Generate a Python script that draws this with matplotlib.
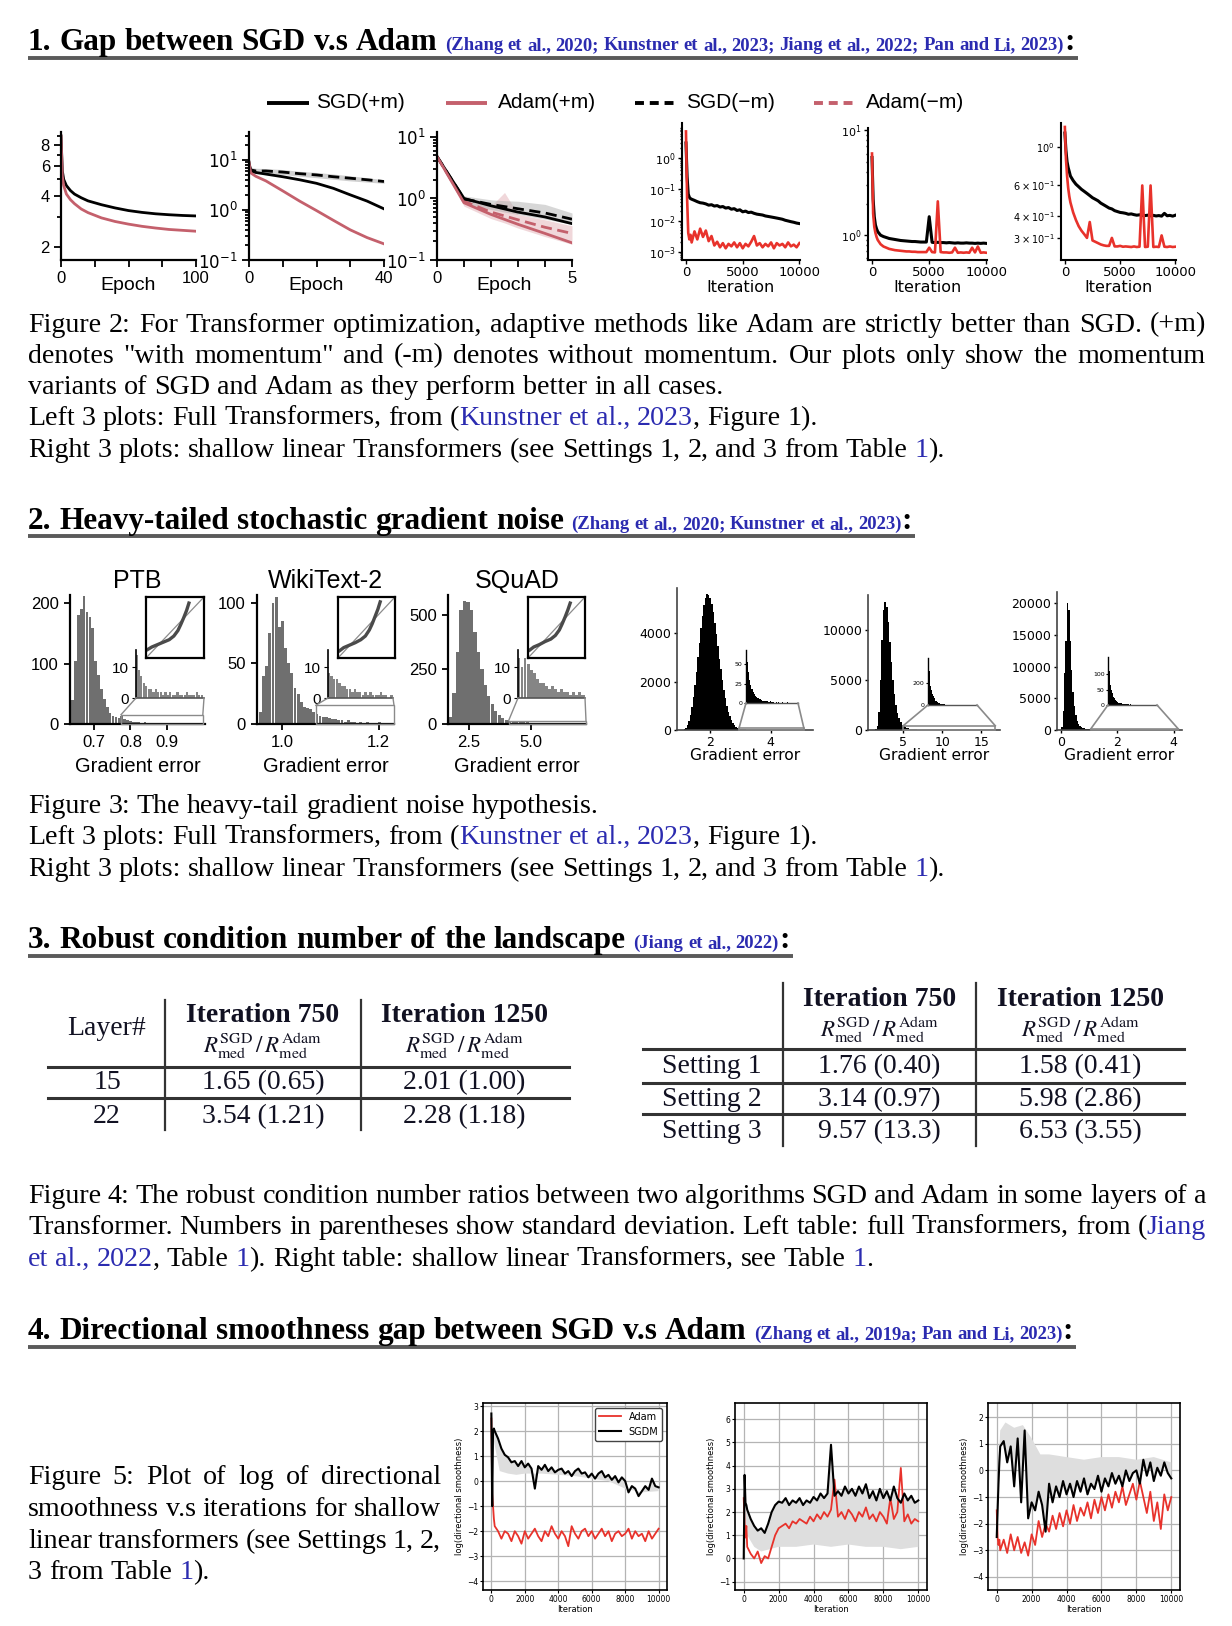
import numpy as np
import matplotlib
matplotlib.use("Agg")
import matplotlib.pyplot as plt
from matplotlib.lines import Line2D
from matplotlib.patches import Rectangle
from matplotlib.ticker import NullFormatter, NullLocator, FixedLocator

plt.rcParams['font.family'] = ['DejaVu Sans']

# ======================= DATA =======================
# --- Section 1, left: full Transformers (loss vs epoch)
ep_a = [0, 1, 2, 4, 7, 10, 15, 20, 30, 40, 50, 60, 70, 80, 90, 100]
sgdm_a = [9.0, 5.6, 5.0, 4.6, 4.3, 4.1, 3.9, 3.74, 3.55, 3.4, 3.28, 3.2, 3.14, 3.1, 3.07, 3.05]
adamm_a = [9.0, 5.2, 4.6, 4.1, 3.8, 3.6, 3.35, 3.19, 2.97, 2.83, 2.73, 2.65, 2.59, 2.54, 2.51, 2.48]

ep_b = [0, 0.5, 2, 5, 10, 15, 20, 25, 30, 35, 40]
sgdm_b = [9.0, 6.0, 5.6, 5.2, 4.6, 4.0, 3.4, 2.7, 2.0, 1.5, 1.05]
adamm_b = [9.0, 5.5, 4.7, 3.8, 2.4, 1.5, 0.97, 0.62, 0.4, 0.28, 0.21]
sgdnm_b = [8.0, 6.3, 6.0, 6.0, 5.7, 5.3, 5.0, 4.6, 4.3, 4.0, 3.7]
sgdnm_b_lo = [7.0, 5.6, 5.3, 5.3, 5.1, 4.7, 4.4, 4.1, 3.8, 3.6, 3.4]
sgdnm_b_hi = [9.0, 7.0, 6.8, 6.7, 6.4, 5.9, 5.6, 5.2, 4.8, 4.4, 4.0]

ep_c = [0, 1, 2, 3, 4, 5]
sgdm_c = [4.8, 1.0, 0.76, 0.6, 0.5, 0.39]
adamm_c = [4.8, 0.85, 0.55, 0.38, 0.27, 0.19]
sgdnm_c = [4.8, 0.98, 0.8, 0.68, 0.58, 0.46]
adamnm_c = [4.8, 0.9, 0.6, 0.45, 0.34, 0.27]
band_c_x = [0, 1, 2, 2.5, 3, 4, 5]
sgdnm_c_lo = [4.6, 0.85, 0.66, 0.6, 0.55, 0.46, 0.38]
sgdnm_c_hi = [5.0, 1.1, 0.95, 0.92, 0.9, 0.8, 0.58]
adamnm_c_lo = [4.6, 0.75, 0.47, 0.4, 0.33, 0.24, 0.18]
adamnm_c_hi = [5.0, 1.0, 0.75, 1.25, 0.55, 0.45, 0.36]

# --- Section 1, right: shallow linear Transformers (loss vs iteration)
iters = [0, 100, 200, 300, 400, 500,
         750, 1000, 1250, 1500, 1750, 2000, 2250, 2500, 2750, 3000,
         3250, 3500, 3750, 4000, 4250, 4500, 4750, 5000, 5250, 5500,
         5750, 6000, 6250, 6500, 6750, 7000, 7250, 7500, 7750, 8000,
         8250, 8500, 8750, 9000, 9250, 9500, 9750, 10000]
s1_sgd = [3.0, 0.25, 0.07, 0.055, 0.05, 0.048,
          0.044, 0.040, 0.037, 0.036, 0.034, 0.031, 0.032, 0.029, 0.030, 0.027,
          0.028, 0.025, 0.026, 0.023, 0.024, 0.021, 0.022, 0.019, 0.020, 0.018,
          0.0185, 0.017, 0.016, 0.0155, 0.015, 0.014, 0.0135, 0.013, 0.0125, 0.012,
          0.0115, 0.011, 0.0102, 0.0097, 0.0092, 0.0088, 0.0083, 0.008]
s1_adam = [7.0, 0.05, 0.004, 0.0025, 0.0035, 0.002,
           0.0045, 0.0025, 0.0055, 0.003, 0.0048, 0.0022, 0.0032, 0.0016, 0.0021, 0.0014,
           0.0019, 0.0013, 0.0018, 0.0015, 0.0020, 0.0014, 0.0019, 0.0013, 0.0018, 0.0015,
           0.0021, 0.0032, 0.0016, 0.0019, 0.0014, 0.0018, 0.0015, 0.0020, 0.0013, 0.0019,
           0.0016, 0.0018, 0.0014, 0.0020, 0.0015, 0.0017, 0.0014, 0.0019]
s2_sgd = [5.5, 2.2, 1.5, 1.25, 1.15, 1.08,
          1.0, 0.97, 0.95, 0.93, 0.92, 0.91, 0.9, 0.89, 0.885, 0.88,
          0.875, 0.87, 0.87, 0.865, 0.86, 0.86, 0.86, 1.5, 0.855, 0.85,
          0.855, 0.85, 0.85, 0.845, 0.85, 0.845, 0.84, 0.845, 0.84, 0.84,
          0.845, 0.84, 0.84, 0.835, 0.84, 0.835, 0.84, 0.835]
s2_adam = [6.0, 1.6, 1.2, 1.05, 0.96, 0.9,
           0.82, 0.78, 0.76, 0.74, 0.73, 0.72, 0.715, 0.71, 0.705, 0.7,
           0.7, 0.695, 0.695, 0.69, 0.69, 0.69, 0.69, 0.76, 0.69, 0.685,
           2.1, 0.69, 0.685, 0.685, 0.68, 0.685, 0.76, 0.68, 0.685, 0.68,
           0.685, 0.68, 0.76, 0.685, 0.78, 0.68, 0.685, 0.68]
s3_sgd = [1.2, 0.95, 0.82, 0.76, 0.72, 0.68,
          0.64, 0.61, 0.59, 0.57, 0.555, 0.54, 0.525, 0.51, 0.5, 0.49,
          0.475, 0.465, 0.455, 0.445, 0.44, 0.43, 0.425, 0.42, 0.418, 0.415,
          0.41, 0.412, 0.408, 0.405, 0.407, 0.404, 0.403, 0.405, 0.402, 0.404,
          0.401, 0.403, 0.40, 0.415, 0.402, 0.404, 0.40, 0.405]
s3_adam = [1.3, 0.85, 0.68, 0.58, 0.52, 0.48,
           0.42, 0.38, 0.35, 0.33, 0.315, 0.30, 0.37, 0.29, 0.285, 0.28,
           0.275, 0.272, 0.27, 0.27, 0.30, 0.268, 0.268, 0.27, 0.267, 0.268,
           0.267, 0.266, 0.268, 0.266, 0.267, 0.60, 0.266, 0.267, 0.60, 0.266,
           0.267, 0.266, 0.31, 0.267, 0.266, 0.268, 0.266, 0.267]

# --- Section 2, left: gradient-error histograms of full Transformers
ptb_start, ptb_bw = 0.636, 0.008
ptb_counts = [40, 105, 180, 190, 212, 185, 178, 160, 105, 82,
              58, 42, 28, 18, 13, 11, 10, 14, 9, 7,
              5, 4, 3, 3, 2, 3, 2, 2, 1, 2,
              1, 2, 1, 1, 2, 1, 1, 1, 2, 1,
              1, 1, 2, 1, 1]
wiki_start, wiki_bw = 0.952, 0.0065
wiki_counts = [10, 40, 48, 75, 100, 105, 80, 85, 63, 50,
               42, 30, 25, 18, 14, 13, 12, 10, 8, 7,
               6, 6, 5, 4, 4, 3, 3, 2, 3, 2,
               2, 1, 2, 1, 2, 1, 1, 1, 2, 1,
               1, 0, 1, 1, 0, 1, 1]
squad_start, squad_bw = 1.7, 0.14
squad_counts = [30, 140, 330, 520, 565, 560, 520, 420, 330, 250,
                180, 130, 90, 60, 40, 27, 18, 13, 10, 13,
                11, 9, 8, 6, 5, 5, 4, 3, 4, 3,
                2, 3, 2, 2, 1, 2, 1, 2, 1, 1,
                2, 1]
qq_x = [0.03, 0.1, 0.2, 0.3, 0.4, 0.48, 0.55, 0.6, 0.65, 0.7, 0.74]
qq_ptb = [0.14, 0.18, 0.22, 0.26, 0.3, 0.36, 0.45, 0.55, 0.66, 0.78, 0.9]
qq_wiki = [0.12, 0.17, 0.21, 0.25, 0.3, 0.36, 0.46, 0.56, 0.68, 0.8, 0.92]
qq_squad = [0.13, 0.18, 0.22, 0.27, 0.31, 0.37, 0.46, 0.56, 0.67, 0.79, 0.9]

# --- Section 2, right: shallow linear Transformers
s1h_start, s1h_bw = 0.975, 0.05
s1h_counts = [0, 10, 20, 50, 100, 200, 380, 620, 950, 1350,
              1850, 2400, 3000, 3600, 4200, 4700, 5150, 5450, 5600, 5580,
              5450, 5200, 4850, 4400, 3950, 3450, 2950, 2500, 2050, 1650,
              1300, 1000, 750, 560, 400, 290, 200, 140, 95, 66,
              52, 40, 30, 23, 18, 14, 11, 9, 8, 6,
              5, 5, 4, 3, 3, 2, 2, 2, 1, 2,
              1, 1, 1, 0, 1, 0, 1, 0, 0, 1,
              0, 0, 0, 1, 0, 0, 0, 0, 0, 0,
              0, 0, 0]
s2h_start, s2h_bw = 1.2, 0.2
s2h_counts = [0, 50, 400, 1800, 5000, 9000, 12000, 12800, 12300, 10800,
              8800, 6800, 5000, 3600, 2500, 1700, 1150, 780, 530, 400,
              300, 220, 170, 130, 100, 80, 62, 50, 40, 33,
              27, 22, 18, 15, 12, 10, 8, 7, 6, 5,
              4, 4, 3, 3, 2, 2, 2, 1, 2, 1,
              1, 1, 1, 0, 1, 1, 0, 1, 0, 1,
              0, 0, 1, 0, 0, 0, 1, 0, 0, 0,
              0, 0, 0, 0, 0, 0, 0, 0]
s3h_start, s3h_bw = 0.0, 0.05
s3h_counts = [500, 3000, 9000, 14000, 20000, 19000, 14000, 9500, 6000, 3800,
              2400, 1500, 950, 650, 450, 330, 260, 215, 185, 170,
              160, 150, 110, 85, 65, 50, 40, 32, 26, 21,
              17, 14, 12, 10, 8, 7, 6, 5, 5, 4,
              4, 3, 3, 3, 2, 2, 2, 2, 1, 2,
              1, 1, 1, 1, 1, 0, 1, 1, 0, 1,
              0, 1, 0, 0, 1, 0, 0, 1, 0, 0,
              0, 1, 0, 0, 0, 0, 0, 0, 0, 0,
              0, 0, 0, 0]

# --- Section 3: tables
left_rows = ['15', '22']
left_it750 = ['1.65 (0.65)', '3.54 (1.21)']
left_it1250 = ['2.01 (1.00)', '2.28 (1.18)']
right_rows = ['Setting 1', 'Setting 2', 'Setting 3']
right_it750 = ['1.76 (0.40)', '3.14 (0.97)', '9.57 (13.3)']
right_it1250 = ['1.58 (0.41)', '5.98 (2.86)', '6.53 (3.55)']

# --- Section 4: log directional smoothness vs iteration
it4 = [0, 50, 100, 150,
       200, 400, 600, 800, 1000, 1200, 1400, 1600, 1800, 2000,
       2200, 2400, 2600, 2800, 3000, 3200, 3400, 3600, 3800, 4000,
       4200, 4400, 4600, 4800, 5000, 5200, 5400, 5600, 5800, 6000,
       6200, 6400, 6600, 6800, 7000, 7200, 7400, 7600, 7800, 8000,
       8200, 8400, 8600, 8800, 9000, 9200, 9400, 9600, 9800, 10000]
g_sgdm = [2.7, -1.0, 2.0, 2.1,
          2.0, 1.7, 1.3, 1.05, 0.95, 0.75, 0.8, 0.6, 0.8, 0.55,
          0.7, 0.5, -0.3, 0.6, 0.45, 0.65, 0.4, 0.55, 0.35, 0.45,
          0.5, 0.3, 0.4, 0.2, 0.4, 0.5, 0.3, 0.35, 0.15, 0.3,
          0.1, 0.3, 0.4, 0.15, 0.25, 0.05, 0.2, -0.05, 0.15, 0.0,
          -0.45, -0.2, -0.3, -0.6, -0.4, -0.2, -0.35, 0.1, -0.2, -0.25]
g_adam = [2.5, -0.5, -1.0, -1.5,
          -1.8, -2.0, -2.3, -2.0, -2.1, -2.4, -2.0, -2.2, -2.5, -2.0,
          -2.3, -2.1, -1.9, -2.2, -2.4, -2.0, -2.2, -1.8, -2.1, -2.3,
          -2.0, -2.2, -2.6, -1.8, -2.1, -2.3, -2.0, -1.9, -2.2, -2.0,
          -2.3, -2.1, -1.9, -2.2, -2.0, -2.4, -2.1, -2.0, -2.2, -2.1,
          -1.9, -2.3, -2.0, -2.2, -2.1, -2.4, -2.0, -2.3, -2.1, -1.9]
g_band_x = [0, 150, 500, 1000, 1500, 2000, 2500, 3000, 4000, 5000, 6000, 7000, 8000, 9000, 10000]
g_band = [2.0, 1.6, 0.4, 0.3, 0.25, 0.3, 0.3, 0.3, 0.25, 0.2, 0.1, 0.0, -0.3, -0.45, -0.4]

h_sgdm = [0.0, 3.6, 2.4, 2.3,
          2.1, 1.7, 1.4, 1.2, 1.3, 1.1, 1.5, 2.0, 2.3, 2.45,
          2.4, 2.6, 2.3, 2.5, 2.4, 2.6, 2.3, 2.5, 2.4, 2.65,
          2.5, 2.8, 2.6, 2.8, 4.9, 2.7, 2.9, 2.7, 3.1, 2.8,
          3.0, 2.7, 3.1, 2.8, 3.2, 2.6, 2.9, 2.5, 3.0, 2.6,
          2.9, 2.5, 3.1, 2.6, 2.4, 2.8, 2.5, 2.7, 2.4, 2.5]
h_adam = [2.6, 1.5, 0.9, 1.4,
          0.5, 0.2, 0.0, 0.3, -0.2, 0.1, 0.0, 0.5, 1.0, 1.3,
          1.4, 1.5, 1.3, 1.6, 1.5, 1.7, 1.6, 1.5, 1.8, 1.6,
          1.9, 1.7, 2.0, 1.8, 2.1, 3.4, 1.8, 2.0, 1.7, 2.1,
          1.9, 1.6, 2.0, 1.8, 2.2, 1.7, 1.9, 1.6, 2.0, 1.8,
          1.5, 2.6, 1.7, 2.0, 3.9, 1.6, 1.9, 1.5, 1.7, 1.6]
h_band_x = [0, 200, 600, 1000, 1500, 2000, 3000, 4000, 5000, 6000, 7000, 8000, 9000, 10000]
h_band = [0.0, 1.0, 0.5, 0.3, 0.4, 0.5, 0.5, 0.6, 0.5, 0.6, 0.5, 0.5, 0.4, 0.5]

i_sgdm = [-2.5, -1.5, -0.5, 0.3,
          0.9, 1.1, 0.3, 0.9, -0.6, 1.2, -1.2, 1.5, -1.8, -1.2,
          -1.5, -0.8, -1.3, -2.3, -0.5, -1.2, -0.6, -1.0, -0.4, -0.9,
          -0.5, -1.0, -0.4, -0.8, -0.3, -0.9, -0.5, -0.7, -0.2, -0.8,
          -0.3, -0.6, -0.1, -0.5, -0.2, -0.6, 0.0, -0.4, -0.1, 0.0,
          -0.5, 0.4, -0.2, 0.3, -0.4, 0.1, -0.2, 0.3, -0.1, -0.3]
i_adam = [-1.5, -2.5, -2.8, -2.6,
          -3.0, -2.6, -3.1, -2.4, -3.0, -2.5, -3.1, -2.7, -3.2, -2.4,
          -2.8, -1.9, -2.5, -2.0, -2.3, -1.7, -2.2, -1.6, -2.1, -1.5,
          -2.0, -1.3, -1.9, -1.4, -1.7, -1.2, -1.8, -1.1, -1.6, -1.0,
          -1.5, -0.9, -1.4, -0.8, -1.2, -0.6, -1.3, -0.9, -0.5, -1.1,
          -0.4, -1.0, -1.6, -0.8, -1.9, -1.2, -2.2, -0.9, -1.5, -1.0]
i_band_x = [0, 200, 500, 1000, 1500, 2000, 2500, 3000, 4000, 5000, 6000, 7000, 8000, 9000, 10000]
i_band = [-1.0, 1.5, 1.8, 1.6, 1.7, 1.2, 0.6, 0.6, 0.5, 0.4, 0.5, 0.5, 0.4, 0.5, 0.3]

# ======================= LAYOUT HELPERS =======================
W, H = 1232, 1626
fig = plt.figure(figsize=(W / 100, H / 100), dpi=100)
fig.patch.set_facecolor('white')
REND = fig.canvas.get_renderer()

SERIF = 'Liberation Serif'
SANS = 'Liberation Sans'
BLUE = '#2b2bb0'
PINK = '#c4606c'
RED = '#e8322b'
INK = '#111122'


def ax_px(x0, y0, x1, y1):
    return fig.add_axes([x0 / W, 1 - y1 / H, (x1 - x0) / W, (y1 - y0) / H])


def ftext(x, y, s, **kw):
    return fig.text(x / W, 1 - y / H, s, **kw)


def fline(xs, ys, **kw):
    fig.add_artist(Line2D([x / W for x in xs], [1 - y / H for y in ys],
                          transform=fig.transFigure, **kw))


def tw(s, kw):
    t = fig.text(0, 0, s, **kw)
    w = t.get_window_extent(renderer=REND).width
    t.remove()
    return w


def rich_line(x0, yb, frags, x1=None):
    words = [[]]
    for s, kw in frags:
        parts = s.split(' ')
        for i, p in enumerate(parts):
            if i > 0:
                words.append([])
            if p:
                words[-1].append((p, kw))
    words = [w for w in words if w]
    wid = [[tw(p, kw) for p, kw in w] for w in words]
    tot = sum(sum(ws) for ws in wid)
    if x1 is not None and len(words) > 1:
        gaps = [(x1 - x0 - tot) / (len(words) - 1)] * (len(words) - 1)
    else:
        gaps = [tw('a a', w[-1][1]) - tw('aa', w[-1][1]) for w in words[:-1]]
    x = x0
    for i, (w, ws) in enumerate(zip(words, wid)):
        for (p, kw), wi in zip(w, ws):
            fig.text(x / W, 1 - yb / H, p, ha='left', va='baseline', **kw)
            x += wi
        if i < len(gaps):
            x += gaps[i]
    return x


HB = dict(family=SERIF, fontsize=22.5, fontweight='bold', color='black')
HC = dict(family=SERIF, fontsize=13.4, fontweight='bold', color=BLUE)
CAP = dict(family=SERIF, fontsize=20.2, color='black')
CAPB = dict(family=SERIF, fontsize=20.2, color=BLUE)


def header(yb, yu, title, cite):
    xe = rich_line(28, yb, [(title + ' ', HB), (cite, HC), (':', HB)])
    fline([28, xe + 3], [yu, yu], color='#5a5a5a', lw=2.8, solid_capstyle='butt')


def zoom_connect(ax, axi, color='#8a8a8a', lw=1.0):
    xl = axi.get_xlim()
    yl = axi.get_ylim()
    ax.add_patch(Rectangle((xl[0], yl[0]), xl[1] - xl[0], yl[1] - yl[0],
                           fill=False, edgecolor=color, lw=lw, clip_on=False, zorder=5))
    for xv in xl:
        a = ax.transData.transform((xv, yl[1]))
        b = axi.transData.transform((xv, yl[0]))
        fig.add_artist(Line2D([a[0] / W, b[0] / W], [a[1] / H, b[1] / H],
                              transform=fig.transFigure, color=color, lw=lw))


# ======================= SECTION 1 =======================
header(50, 58, '1. Gap between SGD v.s Adam',
       '(Zhang et al., 2020; Kunstner et al., 2023; Jiang et al., 2022; Pan and Li, 2023)')

LEG = dict(family=SANS, fontsize=15, va='center', ha='left')
fline([267, 309], [103, 103], color='black', lw=2.8, solid_capstyle='butt')
ftext(316, 103, 'SGD(+m)', **LEG)
fline([446, 487], [103, 103], color=PINK, lw=2.8, solid_capstyle='butt')
ftext(498, 103, 'Adam(+m)', **LEG)
fline([635, 676], [103, 103], color='black', lw=2.8, ls=(0, (2.3, 1.5)), dash_capstyle='butt')
ftext(686, 103, 'SGD(\u2212m)', **LEG)
fline([814, 855], [103, 103], color=PINK, lw=2.8, ls=(0, (2.3, 1.5)), dash_capstyle='butt')
ftext(866, 103, 'Adam(\u2212m)', **LEG)


def style_kun(ax):
    for s in ['top', 'right']:
        ax.spines[s].set_visible(False)
    for s in ['left', 'bottom']:
        ax.spines[s].set_linewidth(1.6)
    ax.tick_params(which='both', direction='out', width=1.3, labelsize=12, pad=3,
                   labelfontfamily=SANS)
    ax.tick_params(which='major', length=5)
    ax.tick_params(which='minor', length=3)
    ax.yaxis.set_minor_formatter(NullFormatter())


DASH = (0, (4, 2))

# plot 1
ax = ax_px(61, 132, 196, 260)
ax.plot(ep_a, sgdm_a, color='black', lw=2)
ax.plot(ep_a, adamm_a, color=PINK, lw=2)
ax.set_yscale('log')
ax.set_xlim(0, 100)
ax.set_ylim(1.68, 9.5)
ax.set_yticks([2, 4, 6, 8])
ax.set_yticklabels(['2', '4', '6', '8'])
ax.yaxis.set_minor_locator(FixedLocator([3, 5, 7, 9]))
ax.set_xticks([0, 25, 50, 75, 100])
ax.set_xticklabels(['0', '', '', '', '100'])
style_kun(ax)
ftext(128.5, 285, 'Epoch', family=SANS, fontsize=14, ha='center', va='center')

# plot 2
ax = ax_px(249, 132, 384, 260)
ax.fill_between(ep_b, sgdnm_b_lo, sgdnm_b_hi, color='#d0d0d0', lw=0)
ax.plot(ep_b, sgdnm_b, color='black', lw=2, ls=DASH)
ax.plot(ep_b, sgdm_b, color='black', lw=2)
ax.plot(ep_b, adamm_b, color=PINK, lw=2)
ax.set_yscale('log')
ax.set_xlim(0, 40)
ax.set_ylim(0.1, 36)
ax.set_yticks([0.1, 1, 10])
ax.set_yticklabels([r'$10^{-1}$', r'$10^{0}$', r'$10^{1}$'])
ax.set_xticks([0, 10, 20, 30, 40])
ax.set_xticklabels(['0', '', '', '', '40'])
style_kun(ax)
ftext(316.5, 285, 'Epoch', family=SANS, fontsize=14, ha='center', va='center')

# plot 3
ax = ax_px(437, 132, 572, 260)
ax.fill_between(band_c_x, adamnm_c_lo, adamnm_c_hi, color=PINK, alpha=0.25, lw=0)
ax.fill_between(band_c_x, sgdnm_c_lo, sgdnm_c_hi, color='#b0b0b0', alpha=0.5, lw=0)
ax.plot(ep_c, adamnm_c, color=PINK, lw=2, ls=DASH)
ax.plot(ep_c, sgdnm_c, color='black', lw=2, ls=DASH)
ax.plot(ep_c, sgdm_c, color='black', lw=2)
ax.plot(ep_c, adamm_c, color=PINK, lw=2)
ax.set_yscale('log')
ax.set_xlim(0, 5)
ax.set_ylim(0.1, 12)
ax.set_yticks([0.1, 1, 10])
ax.set_yticklabels([r'$10^{-1}$', r'$10^{0}$', r'$10^{1}$'])
ax.set_xticks([0, 1, 2, 3, 4, 5])
ax.set_xticklabels(['0', '', '', '', '', '5'])
style_kun(ax)
ftext(504.5, 285, 'Epoch', family=SANS, fontsize=14, ha='center', va='center')


def style_small(ax, ylab=8, xlab=9.5):
    for s in ['top', 'right']:
        ax.spines[s].set_visible(False)
    for s in ['left', 'bottom']:
        ax.spines[s].set_linewidth(1.5)
    ax.tick_params(which='both', direction='out', width=1.0, pad=1.5)
    ax.tick_params(which='major', length=3)
    ax.tick_params(which='minor', length=1.5)
    ax.tick_params(axis='y', labelsize=ylab)
    ax.tick_params(axis='x', labelsize=xlab)
    ax.yaxis.set_minor_formatter(NullFormatter())


right_boxes = [(682, 123, 800, 260), (868, 128, 987, 260), (1061, 123, 1176, 260)]
right_series = [(s1_sgd, s1_adam), (s2_sgd, s2_adam), (s3_sgd, s3_adam)]
right_ylims = [(5.5e-4, 13), (0.58, 10.5), (0.224, 1.37)]
for k, (box, (sg, ad), yl) in enumerate(zip(right_boxes, right_series, right_ylims)):
    ax = ax_px(*box)
    ax.plot(iters, sg, color='black', lw=2.2)
    ax.plot(iters, ad, color=RED, lw=1.9)
    ax.set_yscale('log')
    ax.set_ylim(*yl)
    ax.set_xlim(-350, 10050)
    ax.set_xticks([0, 5000, 10000])
    if k == 0:
        ax.set_yticks([1e-3, 1e-2, 1e-1, 1])
        ax.set_yticklabels([r'$10^{-3}$', r'$10^{-2}$', r'$10^{-1}$', r'$10^{0}$'])
    elif k == 1:
        ax.set_yticks([1, 10])
        ax.set_yticklabels([r'$10^{0}$', r'$10^{1}$'])
    else:
        ax.set_yticks([0.3, 0.4, 0.6, 1.0])
        ax.set_yticklabels([r'$3\times10^{-1}$', r'$4\times10^{-1}$',
                            r'$6\times10^{-1}$', r'$10^{0}$'])
        ax.yaxis.set_minor_locator(NullLocator())
    style_small(ax, ylab=7 if k == 2 else 8)
    ftext((box[0] + box[2]) / 2, 287, 'Iteration', fontsize=11.5, ha='center', va='center')

rich_line(28, 331.5, [('Figure 2: For Transformer optimization, adaptive methods like Adam are strictly better than SGD. (+m)', CAP)], x1=1206)
rich_line(28, 362.6, [('denotes "with momentum" and (-m) denotes without momentum. Our plots only show the momentum', CAP)], x1=1206)
rich_line(28, 393.7, [('variants of SGD and Adam as they perform better in all cases.', CAP)])
rich_line(28, 424.8, [('Left 3 plots: Full Transformers, from (', CAP), ('Kunstner et al., 2023', CAPB), (', Figure 1).', CAP)])
rich_line(28, 457, [('Right 3 plots: shallow linear Transformers (see Settings 1, 2, and 3 from Table ', CAP), ('1', CAPB), (').', CAP)])

# ======================= SECTION 2 =======================
header(529, 536, '2. Heavy-tailed stochastic gradient noise',
       '(Zhang et al., 2020; Kunstner et al., 2023)')


def kun_hist(box, x0, bw, h, xlim, ylim, yt, xt, title, ibox, ixlim, qbox, qy):
    ax = ax_px(*box)
    xc = x0 + bw * (np.arange(len(h)) + 0.5)
    ax.bar(xc, h, width=bw * 0.9, color='#6f6f6f', lw=0)
    ax.set_xlim(*xlim)
    ax.set_ylim(*ylim)
    ax.set_yticks(yt)
    ax.set_xticks(xt)
    ax.set_xticklabels(['%.1f' % v for v in xt])
    style_kun(ax)
    ax.tick_params(which='major', length=4, pad=4)
    cx = (box[0] + box[2]) / 2
    ftext(cx, 581, title, family=SANS, fontsize=18, ha='center', va='center')
    ftext(cx, 767, 'Gradient error', family=SANS, fontsize=14.5, ha='center', va='center')
    axi = ax_px(*ibox)
    axi.patch.set_alpha(0)
    axi.bar(xc, h, width=bw * 0.9, color='#858585', lw=0)
    axi.set_xlim(*ixlim)
    axi.set_ylim(0, 15.5)
    axi.set_xticks([])
    axi.set_yticks([0, 10])
    for s in ['top', 'right']:
        axi.spines[s].set_visible(False)
    axi.spines['left'].set_linewidth(1.2)
    axi.spines['bottom'].set_linewidth(1.2)
    axi.spines['bottom'].set_color('#555555')
    axi.tick_params(axis='y', labelsize=11, length=3, pad=2, labelfontfamily=SANS)
    zoom_connect(ax, axi)
    axq = ax_px(*qbox)
    axq.plot([0, 1], [0, 1], color='#8c8c8c', lw=0.9)
    axq.plot(qq_x, qy, color='#4a4a4a', lw=2.4)
    axq.set_xlim(0, 1)
    axq.set_ylim(0, 1)
    axq.set_xticks([])
    axq.set_yticks([])
    for s in axq.spines.values():
        s.set_linewidth(1.6)


kun_hist((70, 595, 205, 724), ptb_start, ptb_bw, ptb_counts, (0.633, 1.006), (0, 214),
         [0, 100, 200], [0.7, 0.8, 0.9], 'PTB', (136, 650, 204, 698), (0.774, 1.0),
         (146, 597, 204, 658), qq_ptb)
kun_hist((257, 595, 394, 724), wiki_start, wiki_bw, wiki_counts, (0.948, 1.232), (0, 106.6),
         [0, 50, 100], [1.0, 1.2], 'WikiText-2', (328, 650, 393, 698), (1.07, 1.232),
         (338, 597, 395, 658), qq_wiki)
kun_hist((448, 595, 586, 724), squad_start, squad_bw, squad_counts, (1.67, 7.2), (0, 591),
         [0, 250, 500], [2.5, 5.0], 'SQuAD', (518, 650, 585, 698), (4.1, 7.2),
         (528, 597, 585, 658), qq_squad)


def lin_hist(box, x0, bw, h, xlim, ylim, yt, xt, ibox, ixlim, iylim, iyt):
    ax = ax_px(*box)
    xc = x0 + bw * (np.arange(len(h)) + 0.5)
    ax.bar(xc, h, width=bw, color='black', lw=0)
    ax.set_xlim(*xlim)
    ax.set_ylim(*ylim)
    ax.set_yticks(yt)
    ax.set_xticks(xt)
    for s in ['top', 'right']:
        ax.spines[s].set_visible(False)
    for s in ['left', 'bottom']:
        ax.spines[s].set_linewidth(1.2)
        ax.spines[s].set_color('#444444')
    ax.tick_params(direction='out', length=2.5, width=1, pad=1.5, labelsize=9)
    ftext((box[0] + box[2]) / 2, 755, 'Gradient error', fontsize=11.2, ha='center', va='center')
    axi = ax_px(*ibox)
    axi.patch.set_alpha(0)
    axi.bar(xc, h, width=bw, color='black', lw=0)
    axi.set_xlim(*ixlim)
    axi.set_ylim(*iylim)
    axi.set_xticks([])
    axi.set_yticks(iyt)
    for s in ['top', 'right']:
        axi.spines[s].set_visible(False)
    axi.spines['left'].set_linewidth(1.0)
    axi.spines['bottom'].set_linewidth(1.0)
    axi.spines['bottom'].set_color('#555555')
    axi.tick_params(axis='y', labelsize=4.5, length=1.5, pad=1)
    zoom_connect(ax, axi, color='#8a8a8a', lw=1.2)


lin_hist((677, 588, 813, 730), s1h_start, s1h_bw, s1h_counts, (0.9, 5.4), (0, 5860),
         [0, 2000, 4000], [2, 4], (746, 650, 798, 703), (2.95, 5.1), (0, 68), [0, 25, 50])
lin_hist((868, 595, 1000, 730), s2h_start, s2h_bw, s2h_counts, (0.5, 17.4), (0, 13500),
         [0, 5000, 10000], [5, 10, 15], (928, 658, 977, 705), (5.0, 16.8), (0, 420), [0, 200])
lin_hist((1057, 592, 1182, 730), s3h_start, s3h_bw, s3h_counts, (-0.15, 4.3), (0, 21800),
         [0, 5000, 10000, 15000, 20000], [0, 2, 4], (1108, 657, 1157, 705), (1.05, 4.17),
         (0, 155), [0, 50, 100])

rich_line(28, 812.6, [('Figure 3: The heavy-tail gradient noise hypothesis.', CAP)])
rich_line(28, 844, [('Left 3 plots: Full Transformers, from (', CAP), ('Kunstner et al., 2023', CAPB), (', Figure 1).', CAP)])
rich_line(28, 876, [('Right 3 plots: shallow linear Transformers (see Settings 1, 2, and 3 from Table ', CAP), ('1', CAPB), (').', CAP)])

# ======================= SECTION 3 =======================
header(948, 956, '3. Robust condition number of the landscape', '(Jiang et al., 2022)')

TB = dict(family=SERIF, fontsize=20, color=INK, ha='center', va='baseline')
TBB = dict(family=SERIF, fontsize=20, fontweight='bold', color=INK, ha='center', va='baseline')
RAT = r'$R^{\mathrm{SGD}}_{\mathrm{med}}\,/\,R^{\mathrm{Adam}}_{\mathrm{med}}$'
RK = dict(fontsize=16.5, color=INK, ha='center', va='center', math_fontfamily='stix')

for yy in [1066.7, 1098]:
    fline([47.5, 569], [yy, yy], color='#333333', lw=2.2)
for xx in [165, 361]:
    fline([xx, xx], [1000, 1130], color='#333333', lw=1.6)
ftext(107, 1035, 'Layer#', **TB)
ftext(263, 1022, 'Iteration 750', **TBB)
ftext(464.6, 1022, 'Iteration 1250', **TBB)
ftext(263, 1046, RAT, **RK)
ftext(464.6, 1046, RAT, **RK)
for r, (a, b, c) in enumerate(zip(left_rows, left_it750, left_it1250)):
    yb = [1089, 1123][r]
    ftext(107, yb, a, **TB)
    ftext(263, yb, b, **TB)
    ftext(464.6, yb, c, **TB)

for yy in [1049, 1082.7, 1114]:
    fline([643.4, 1184], [yy, yy], color='#333333', lw=2.2)
for xx in [783, 976]:
    fline([xx, xx], [983, 1146], color='#333333', lw=1.6)
ftext(879.6, 1005.5, 'Iteration 750', **TBB)
ftext(1080.6, 1005.5, 'Iteration 1250', **TBB)
ftext(879.6, 1030, RAT, **RK)
ftext(1080.6, 1030, RAT, **RK)
for r, (a, b, c) in enumerate(zip(right_rows, right_it750, right_it1250)):
    yb = [1073, 1106, 1138][r]
    ftext(711.7, yb, a, **TB)
    ftext(879.6, yb, b, **TB)
    ftext(1080.6, yb, c, **TB)

rich_line(28, 1202.6, [('Figure 4: The robust condition number ratios between two algorithms SGD and Adam in some layers of a', CAP)], x1=1206)
rich_line(28, 1233.7, [('Transformer. Numbers in parentheses show standard deviation. Left table: full Transformers, from (', CAP), ('Jiang', CAPB)], x1=1206)
rich_line(28, 1266, [('et al., 2022', CAPB), (', Table ', CAP), ('1', CAPB), ('). Right table: shallow linear Transformers, see Table ', CAP), ('1', CAPB), ('.', CAP)])

# ======================= SECTION 4 =======================
header(1339, 1347, '4. Directional smoothness gap between SGD v.s Adam',
       '(Zhang et al., 2019a; Pan and Li, 2023)')

rich_line(28, 1483.6, [('Figure 5:  Plot of log of directional', CAP)], x1=440.7)
rich_line(28, 1515.8, [('smoothness v.s iterations for shallow', CAP)], x1=440.7)
rich_line(28, 1548, [('linear transformers (see Settings 1, 2,', CAP)], x1=440.7)
rich_line(28, 1579, [('3 from Table ', CAP), ('1', CAPB), (').', CAP)])

smooth_boxes = [(483, 1403, 667, 1590), (735, 1403, 927, 1590), (988, 1403, 1180, 1590)]
smooth_data = [(g_sgdm, g_adam, g_band_x, g_band), (h_sgdm, h_adam, h_band_x, h_band),
               (i_sgdm, i_adam, i_band_x, i_band)]
smooth_ylims = [(-4.35, 3.12), (-1.36, 6.7), (-4.49, 2.53)]
smooth_yticks = [[-4, -3, -2, -1, 0, 1, 2, 3], [-1, 0, 1, 2, 3, 4, 5, 6],
                 [-4, -3, -2, -1, 0, 1, 2]]
for k, (box, (sg, ad, bx, bv), yl, yt) in enumerate(zip(smooth_boxes, smooth_data,
                                                        smooth_ylims, smooth_yticks)):
    ax = ax_px(*box)
    ax.set_axisbelow(True)
    ax.grid(True, color='#b4b4b4', lw=0.9)
    px = list(it4) + list(bx[::-1])
    py = list(sg) + list(bv[::-1])
    ax.fill(px, py, color='#dedede', lw=0, zorder=1.5)
    ax.plot(it4, ad, color=RED, lw=1.3, label='Adam', zorder=3)
    ax.plot(it4, sg, color='black', lw=1.5, label='SGDM', zorder=4)
    ax.set_xlim(-500, 10500)
    ax.set_ylim(*yl)
    ax.set_yticks(yt)
    ax.set_xticks([0, 2000, 4000, 6000, 8000, 10000])
    for s in ax.spines.values():
        s.set_linewidth(1.2)
    ax.tick_params(labelsize=5.5, length=2, width=0.8, pad=1.5)
    ax.set_ylabel('log(directional smoothness)', fontsize=6, labelpad=2)
    ax.set_xlabel('Iteration', fontsize=6, labelpad=1)
    if k == 0:
        ax.legend(loc='upper right', fontsize=7, framealpha=1, edgecolor='#444444',
                  handlelength=2.2, borderpad=0.4)

fig.savefig('out.png', dpi=100, facecolor='white')
